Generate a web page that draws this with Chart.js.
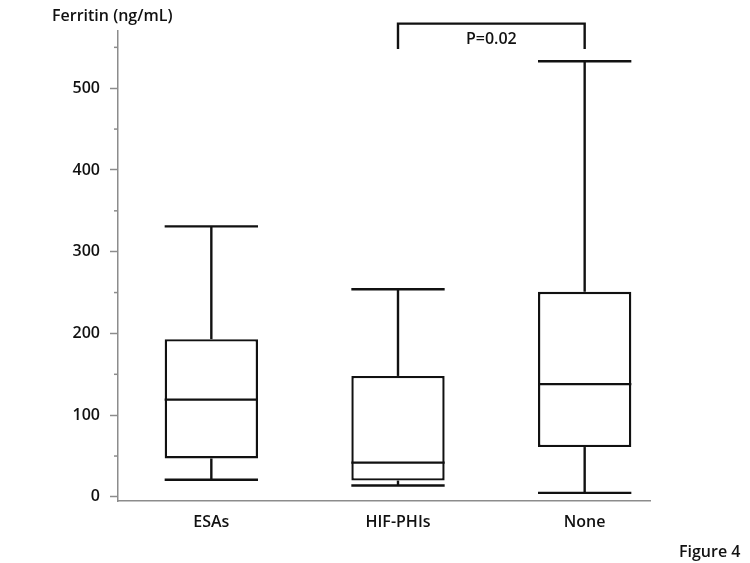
<!DOCTYPE html>
<html>
<head>
<meta charset="utf-8">
<script src="https://cdn.jsdelivr.net/npm/chart.js@4.4.1/dist/chart.umd.min.js"></script>
<style>
    html, body { margin: 0; padding: 0; background: #ffffff; }
    #wrap { width: 750px; height: 563px; }
</style>
</head>
<body>
<div id="wrap"><canvas id="chart" width="750" height="563"></canvas></div>
<script>
// box plot values (ng/mL)
const groups = ["ESAs", "HIF-PHIs", "None"];
const positions = [1, 2, 3];
const whiskerLow = [21, 14, 5];
const q1 = [47, 20, 61];
const median = [119, 42, 138];
const q3 = [193, 148, 251];
const whiskerHigh = [331, 254, 533];

const yTicks = [0, 50, 100, 150, 200, 250, 300, 350, 400, 450, 500, 550];

// significance bracket between HIF-PHIs and None
const bracketFrom = 2;
const bracketTo = 3;
const bracketTop = 579;
const bracketFoot = 548;
const bracketText = "P=0.02";

const FONT = "'Open Sans', sans-serif";
const INK = "#111111";
const AXIS = "#8c8c8c";
const HALF_BOX = 0.25;
const LINE_W = 2.4;

const boxPlotPlugin = {
    id: "boxWhiskers",
    afterDatasetsDraw: (chart) => {
        const { ctx, scales } = chart;
        const x = scales.x;
        const y = scales.y;
        ctx.save();
        ctx.strokeStyle = INK;
        ctx.lineWidth = LINE_W;
        positions.forEach((pos, i) => {
            const cx = x.getPixelForValue(pos);
            const left = x.getPixelForValue(pos - HALF_BOX);
            const right = x.getPixelForValue(pos + HALF_BOX);
            const line = (x1, y1, x2, y2) => {
                ctx.beginPath();
                ctx.moveTo(x1, y1);
                ctx.lineTo(x2, y2);
                ctx.stroke();
            };
            // median
            line(left, y.getPixelForValue(median[i]), right, y.getPixelForValue(median[i]));
            // whiskers
            line(cx, y.getPixelForValue(q3[i]), cx, y.getPixelForValue(whiskerHigh[i]));
            line(cx, y.getPixelForValue(q1[i]), cx, y.getPixelForValue(whiskerLow[i]));
            // caps
            line(left, y.getPixelForValue(whiskerHigh[i]), right, y.getPixelForValue(whiskerHigh[i]));
            line(left, y.getPixelForValue(whiskerLow[i]), right, y.getPixelForValue(whiskerLow[i]));
        });
        ctx.restore();
    },
    afterDraw: (chart) => {
        const { ctx, scales, chartArea } = chart;
        const x = scales.x;
        const y = scales.y;
        ctx.save();

        // minor ticks on the y axis
        ctx.strokeStyle = AXIS;
        ctx.lineWidth = 1.5;
        yTicks.filter((v) => v % 100 !== 0).forEach((v) => {
            const py = y.getPixelForValue(v);
            ctx.beginPath();
            ctx.moveTo(chartArea.left - 4, py);
            ctx.lineTo(chartArea.left, py);
            ctx.stroke();
        });

        // bracket
        const bx1 = x.getPixelForValue(bracketFrom);
        const bx2 = x.getPixelForValue(bracketTo);
        const by = y.getPixelForValue(bracketTop);
        const bf = y.getPixelForValue(bracketFoot);
        ctx.strokeStyle = INK;
        ctx.lineWidth = LINE_W;
        ctx.beginPath();
        ctx.moveTo(bx1, bf);
        ctx.lineTo(bx1, by);
        ctx.lineTo(bx2, by);
        ctx.lineTo(bx2, bf);
        ctx.stroke();

        ctx.fillStyle = INK;
        ctx.textBaseline = "middle";
        ctx.textAlign = "center";
        ctx.font = `600 16px ${FONT}`;
        ctx.fillText(bracketText, (bx1 + bx2) / 2, by + 16);

        // axis title and figure tag
        ctx.textAlign = "left";
        ctx.fillText("Ferritin (ng/mL)", 52, 16);
        ctx.fillText("Figure 4", 679, 552);
        ctx.restore();
    },
};

new Chart(document.getElementById("chart"), {
    type: "bar",
    data: {
        datasets: [{
            data: positions.map((pos, i) => ({ x: pos, y: [q1[i], q3[i]] })),
            backgroundColor: "#ffffff",
            borderColor: INK,
            borderWidth: LINE_W,
            borderSkipped: false,
            barPercentage: 2 * HALF_BOX,
            categoryPercentage: 1,
        }],
    },
    options: {
        responsive: false,
        animation: false,
        layout: { padding: { top: 31, right: 100, left: 0, bottom: 0 } },
        plugins: {
            legend: { display: false },
            tooltip: { enabled: false },
        },
        scales: {
            x: {
                type: "linear",
                offset: false,
                min: 0.5,
                max: 3.35,
                afterBuildTicks: (scale) => {
                    scale.ticks = positions.map((v) => ({ value: v }));
                },
                afterFit: (scale) => { scale.height = 62; },
                grid: { display: false, drawTicks: false },
                border: { color: AXIS, width: 1.5 },
                ticks: {
                    padding: 12,
                    color: INK,
                    font: { family: FONT, size: 16, weight: "600" },
                    callback: (value) => groups[positions.indexOf(value)] || "",
                },
            },
            y: {
                min: -5,
                max: 570,
                afterBuildTicks: (scale) => {
                    scale.ticks = yTicks.map((v) => ({ value: v }));
                },
                afterFit: (scale) => { scale.width = 118; },
                grid: {
                    drawOnChartArea: false,
                    tickLength: 8,
                    tickWidth: 1.5,
                    tickColor: (ctx) => (ctx.tick && ctx.tick.value % 100 === 0 ? AXIS : "rgba(0,0,0,0)"),
                },
                border: { color: AXIS, width: 1.5 },
                ticks: {
                    padding: 10,
                    color: INK,
                    font: { family: FONT, size: 16, weight: "600" },
                    callback: (value) => (value % 100 === 0 ? String(value) : ""),
                },
            },
        },
    },
    plugins: [boxPlotPlugin],
});
</script>
</body>
</html>
